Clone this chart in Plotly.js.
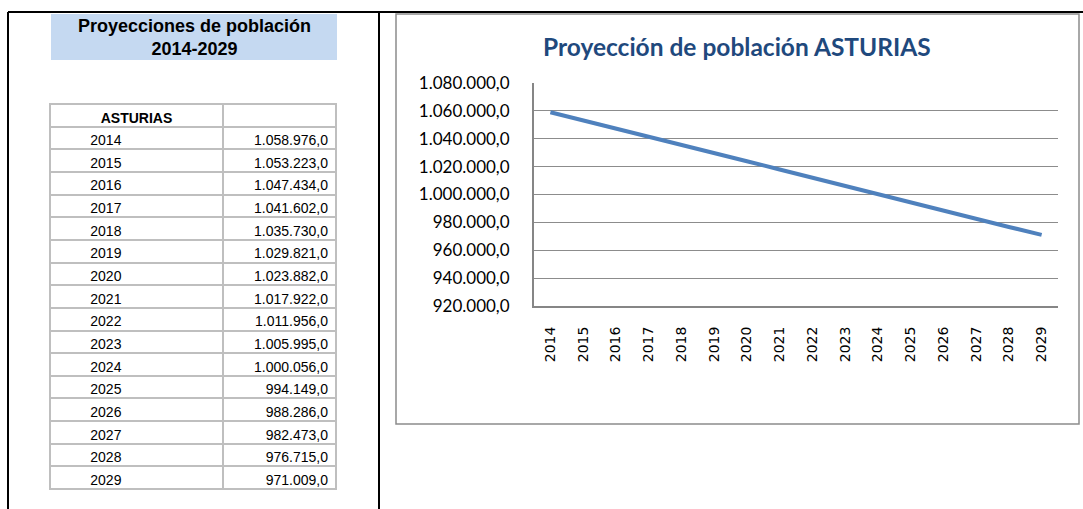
<!DOCTYPE html>
<html>
<head>
<meta charset="utf-8">
<script src="https://cdn.plot.ly/plotly-3.0.1.min.js"></script>
<style>html,body{margin:0;padding:0;background:#fff;}#chart{width:1083px;height:509px;}</style>
</head>
<body>
<div id="chart"></div>
<script>
const years = ['2014','2015','2016','2017','2018','2019','2020','2021','2022','2023','2024','2025','2026','2027','2028','2029'];
const population = [1058976, 1053223, 1047434, 1041602, 1035730, 1029821, 1023882, 1017922, 1011956, 1005995, 1000056, 994149, 988286, 982473, 976715, 971009];
const tableHeader = ['ASTURIAS', ''];
const panelTitle = 'Proyecciones de población<br>2014-2029';
const chartTitle = 'Proyección de población ASTURIAS';
const yTickValues = [920000, 940000, 960000, 980000, 1000000, 1020000, 1040000, 1060000, 1080000];

const W = 1083, H = 509;
const px = x => x / W;
const py = y => 1 - y / H;

function fmt(v) {
  const s = v.toFixed(1);
  const parts = s.split('.');
  return parts[0].replace(/\B(?=(\d{3})+(?!\d))/g, '.') + ',' + parts[1];
}
const indent = '\u00a0'.repeat(8) + '\u200a';

const lineTrace = {
  type: 'scatter', mode: 'lines',
  x: years, y: population,
  line: {color: '#4F81BD', width: 4},
  xaxis: 'x', yaxis: 'y', hoverinfo: 'skip'
};

const tableTrace = {
  type: 'table',
  domain: {x: [px(50), px(336)], y: [py(507), py(104)]},
  columnwidth: [173, 113],
  header: {
    values: tableHeader,
    align: ['center', 'center'],
    height: 22.65,
    line: {color: '#BFBFBF', width: 2},
    fill: {color: '#ffffff'},
    font: {family: 'Liberation Sans, Arial, sans-serif', size: 14, color: '#000', weight: 'bold'}
  },
  cells: {
    values: [years.map(y => indent + y), population.map(fmt)],
    align: ['left', 'right'],
    height: 22.65,
    line: {color: '#BFBFBF', width: 2},
    fill: {color: '#ffffff'},
    font: {family: 'Liberation Sans, Arial, sans-serif', size: 14, color: '#000'}
  }
};

const layout = {
  width: W, height: H,
  margin: {l: 0, r: 0, t: 0, b: 0},
  paper_bgcolor: '#fff', plot_bgcolor: '#fff',
  showlegend: false,
  separators: ',.',
  xaxis: {
    type: 'category',
    domain: [px(534), px(1058)],
    range: [-0.5, 15.5],
    tickangle: -90,
    ticks: '',
    ticklabelstandoff: 13,
    showgrid: false,
    showline: true, linecolor: '#868686', linewidth: 2,
    tickfont: {family: 'DejaVu Sans, sans-serif', size: 14, color: '#000'},
    fixedrange: true
  },
  yaxis: {
    domain: [py(306), py(83)],
    range: [920000, 1080000],
    tickmode: 'array', tickvals: yTickValues,
    tickformat: ',.1f',
    ticks: '',
    ticklabelstandoff: 19,
    showgrid: true, gridcolor: '#8C8C8C', gridwidth: 1,
    zeroline: false,
    showline: true, linecolor: '#868686', linewidth: 2,
    tickfont: {family: 'Lato, sans-serif', size: 17, color: '#000'},
    fixedrange: true
  },
  shapes: [
    {type: 'rect', xref: 'paper', yref: 'paper', x0: px(51), x1: px(337), y0: py(60), y1: py(14),
     fillcolor: '#C5D9F1', line: {width: 0}, layer: 'below'},
    {type: 'rect', xref: 'paper', yref: 'paper', x0: px(396), x1: px(1079), y0: py(424), y1: py(14),
     fillcolor: 'rgba(0,0,0,0)', line: {color: '#8C8C8C', width: 1.5}, layer: 'below'},
    {type: 'line', xref: 'paper', yref: 'paper', x0: px(8), x1: 1, y0: py(12), y1: py(12),
     line: {color: '#000', width: 2}},
    {type: 'line', xref: 'paper', yref: 'paper', x0: px(8), x1: px(8), y0: py(12), y1: 0,
     line: {color: '#000', width: 2}},
    {type: 'line', xref: 'paper', yref: 'paper', x0: px(379), x1: px(379), y0: py(12), y1: 0,
     line: {color: '#000', width: 2}}
  ],
  annotations: [
    {xref: 'paper', yref: 'paper', x: px(194), y: py(37), xanchor: 'center', yanchor: 'middle',
     text: '<b>' + panelTitle + '</b>', showarrow: false,
     font: {family: 'Liberation Sans, Arial, sans-serif', size: 18, color: '#000'}},
    {xref: 'paper', yref: 'paper', x: px(737), y: py(46), xanchor: 'center', yanchor: 'middle',
     text: '<b>' + chartTitle + '</b>', showarrow: false,
     font: {family: 'Lato, sans-serif', size: 24.5, color: '#1F497D'}}
  ]
};

Plotly.newPlot('chart', [tableTrace, lineTrace], layout, {staticPlot: true, displayModeBar: false});
</script>
</body>
</html>
